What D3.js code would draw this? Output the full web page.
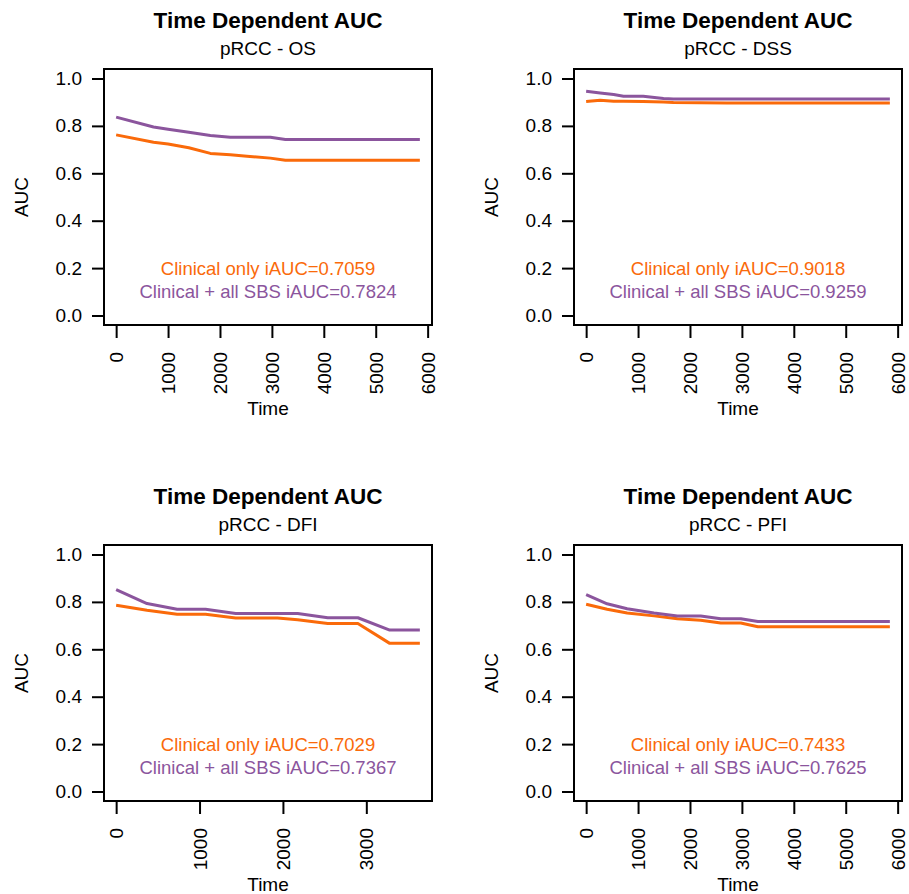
<!DOCTYPE html>
<html>
<head>
<meta charset="utf-8">
<script src="https://cdn.jsdelivr.net/npm/d3@7"></script>
<style>
  html, body { margin: 0; padding: 0; background: #fff; }
  svg { display: block; }
  text { font-family: "Liberation Sans", Arial, Helvetica, sans-serif; }
</style>
</head>
<body>
<svg id="chart" width="909" height="894"></svg>
<script>
// ---------- DATA ----------
const panelTitles = ["Time Dependent AUC", "Time Dependent AUC", "Time Dependent AUC", "Time Dependent AUC"];
const panelSubtitles = ["pRCC - OS", "pRCC - DSS", "pRCC - DFI", "pRCC - PFI"];
const seriesNames = ["Clinical only", "Clinical + all SBS"];
const iAUCClinical = ["0.7059", "0.9018", "0.7029", "0.7433"];
const iAUCAllSBS  = ["0.7824", "0.9259", "0.7367", "0.7625"];

const timesOS = [0, 720, 1000, 1400, 1815, 2200, 2520, 2970, 3260, 5850];
const clinicalOS = [0.762, 0.731, 0.724, 0.708, 0.684, 0.678, 0.672, 0.664, 0.655, 0.655];
const allSbsOS   = [0.837, 0.795, 0.786, 0.773, 0.759, 0.752, 0.752, 0.752, 0.743, 0.743];

const timesDSS = [0, 270, 530, 720, 1100, 1490, 1680, 2710, 5850];
const clinicalDSS = [0.903, 0.908, 0.904, 0.904, 0.903, 0.901, 0.899, 0.897, 0.897];
const allSbsDSS   = [0.946, 0.939, 0.932, 0.925, 0.925, 0.916, 0.913, 0.913, 0.913];

const timesDFI = [0, 370, 731, 1072, 1434, 1936, 2177, 2538, 2899, 3281, 3642];
const clinicalDFI = [0.786, 0.765, 0.748, 0.748, 0.732, 0.732, 0.725, 0.709, 0.709, 0.625, 0.625];
const allSbsDFI   = [0.852, 0.793, 0.769, 0.769, 0.751, 0.751, 0.751, 0.733, 0.733, 0.681, 0.681];

const timesPFI = [0, 404, 790, 1307, 1757, 2207, 2593, 2979, 3308, 5850];
const clinicalPFI = [0.790, 0.769, 0.753, 0.741, 0.729, 0.723, 0.711, 0.711, 0.695, 0.695];
const allSbsPFI   = [0.831, 0.792, 0.771, 0.753, 0.740, 0.740, 0.729, 0.729, 0.717, 0.717];

const yTicks = [0.0, 0.2, 0.4, 0.6, 0.8, 1.0];
const xTickStep = 1000;
const xLabel = "Time";
const yLabel = "AUC";

// ---------- STYLE / LAYOUT ----------
const colClinical = "#FA6A0A";
const colAllSbs = "#8B559D";
const baseFont = 19;

const panels = [
  { times: timesOS,  clin: clinicalOS,  sbs: allSbsOS,  x0: 104, y0: 69 },
  { times: timesDSS, clin: clinicalDSS, sbs: allSbsDSS, x0: 574, y0: 69 },
  { times: timesDFI, clin: clinicalDFI, sbs: allSbsDFI, x0: 104, y0: 545 },
  { times: timesPFI, clin: clinicalPFI, sbs: allSbsPFI, x0: 574, y0: 545 }
];
const boxW = 328, boxH = 256;

const svg = d3.select("#chart");

panels.forEach((p, i) => {
  const g = svg.append("g").attr("transform", `translate(${p.x0},${p.y0})`);
  const tMin = d3.min(p.times), tMax = d3.max(p.times);
  const r = tMax - tMin;
  const x = d3.scaleLinear().domain([tMin - 0.04 * r, tMax + 0.04 * r]).range([0, boxW]);
  const y = d3.scaleLinear().domain([-0.04, 1.04]).range([boxH, 0]);

  // series lines
  const line = d3.line().x(d => x(d[0])).y(d => y(d[1]));
  [[p.clin, colClinical], [p.sbs, colAllSbs]].forEach(([vals, col]) => {
    g.append("path")
      .datum(p.times.map((t, k) => [t, vals[k]]))
      .attr("fill", "none")
      .attr("stroke", col)
      .attr("stroke-width", 3)
      .attr("stroke-linejoin", "round")
      .attr("d", line);
  });

  // box
  g.append("rect").attr("x", 0).attr("y", 0).attr("width", boxW).attr("height", boxH)
    .attr("fill", "none").attr("stroke", "#000").attr("stroke-width", 2);

  // y axis
  const yAxis = d3.axisLeft(y).tickValues(yTicks).tickFormat(d3.format(".1f")).tickSize(12).tickPadding(10);
  const ya = g.append("g").call(yAxis);
  ya.select(".domain").remove();
  ya.selectAll(".tick line").attr("stroke", "#000").attr("stroke-width", 2);
  ya.selectAll(".tick text").attr("font-size", baseFont).attr("fill", "#000")
    .attr("font-family", '"Liberation Sans", Arial, sans-serif');

  // x axis
  const xd = x.domain();
  const xTicks = d3.range(Math.ceil(Math.max(0, xd[0]) / xTickStep) * xTickStep, xd[1] + 1, xTickStep);
  const xAxis = d3.axisBottom(x).tickValues(xTicks).tickFormat(d3.format("d")).tickSize(13).tickSizeOuter(0);
  const xa = g.append("g").attr("transform", `translate(0,${boxH})`).call(xAxis);
  xa.select(".domain").remove();
  xa.selectAll(".tick line").attr("stroke", "#000").attr("stroke-width", 2);
  xa.selectAll(".tick text")
    .attr("font-size", baseFont).attr("fill", "#000")
    .attr("font-family", '"Liberation Sans", Arial, sans-serif')
    .attr("text-anchor", "end")
    .attr("dy", null)
    .attr("dominant-baseline", "central")
    .attr("transform", "translate(0,27) rotate(-90)")
    .attr("x", 0).attr("y", 0);

  // axis titles
  g.append("text").attr("x", boxW / 2).attr("y", boxH + 90)
    .attr("text-anchor", "middle").attr("font-size", baseFont).text(xLabel);
  g.append("text").attr("transform", `translate(${-76},${boxH / 2}) rotate(-90)`)
    .attr("text-anchor", "middle").attr("font-size", baseFont).text(yLabel);

  // titles
  g.append("text").attr("x", boxW / 2).attr("y", -41)
    .attr("text-anchor", "middle").attr("font-size", 22.5).attr("font-weight", "bold").text(panelTitles[i]);
  g.append("text").attr("x", boxW / 2).attr("y", -14)
    .attr("text-anchor", "middle").attr("font-size", baseFont).text(panelSubtitles[i]);

  // iAUC annotations
  g.append("text").attr("x", boxW / 2).attr("y", y(0.2))
    .attr("text-anchor", "middle").attr("dominant-baseline", "central")
    .attr("font-size", 18.5).attr("fill", colClinical)
    .text(`${seriesNames[0]} iAUC=${iAUCClinical[i]}`);
  g.append("text").attr("x", boxW / 2).attr("y", y(0.1))
    .attr("text-anchor", "middle").attr("dominant-baseline", "central")
    .attr("font-size", 18.5).attr("fill", colAllSbs)
    .text(`${seriesNames[1]} iAUC=${iAUCAllSBS[i]}`);
});
</script>
</body>
</html>
